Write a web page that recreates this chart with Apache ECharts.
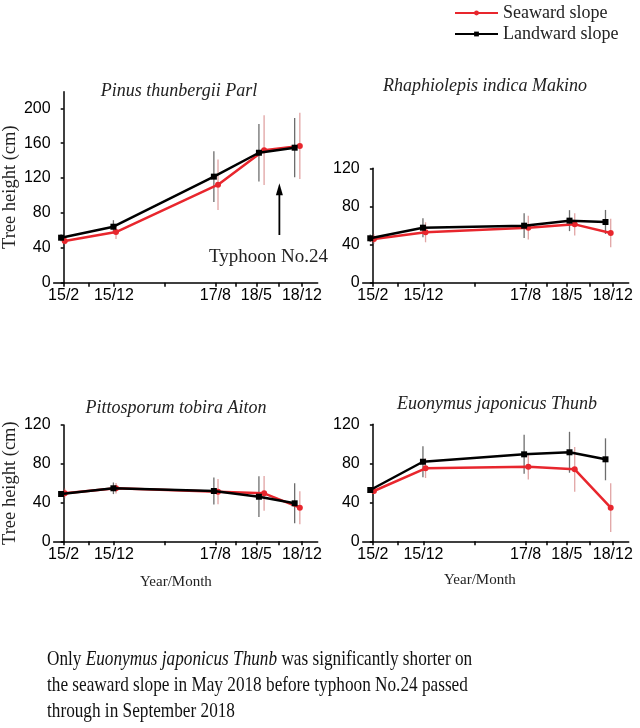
<!DOCTYPE html>
<html>
<head>
<meta charset="utf-8">
<script src="https://cdn.jsdelivr.net/npm/echarts@6/dist/echarts.min.js"></script>
<style>html,body{margin:0;padding:0;background:#fff}#c{width:640px;height:728px}</style>
</head>
<body>
<div id="c"></div>
<script>
// ---- data ----
// x positions in months since 2015/02 (as placed in the figure)
const tickMajor = [0, 9.7, 29.3, 37.2, 46];
const tickMinor = [4.8, 19.5, 33.3, 41.6];
const tickLabels = ['15/2', '15/12', '17/8', '18/5', '18/12'];
const xLand = [-0.5, 9.6, 29.0, 37.7, 44.6];
const xSea = [0.2, 10.1, 29.8, 38.7, 45.6];

const species = ['Pinus thunbergii Parl', 'Rhaphiolepis indica Makino', 'Pittosporum tobira Aiton', 'Euonymus japonicus Thunb'];

const pinusSea = [47.8, 58.1, 112.4, 152, 156.8];
const pinusSeaErr = [4, 8, 29, 40, 38];
const pinusLand = [51.6, 64.2, 121.6, 149, 154.8];
const pinusLandErr = [4, 7.5, 29, 33, 34];

const rhaphSea = [45.9, 52.9, 57.7, 61.2, 52.2];
const rhaphSeaErr = [5, 10.5, 12.5, 11.6, 15];
const rhaphLand = [46.6, 57.7, 59.8, 65.1, 63.7];
const rhaphLandErr = [4, 10, 13, 11, 12.6];

const pittoSea = [49.5, 54.7, 51.2, 49.5, 34.7];
const pittoSeaErr = [5, 5.5, 13, 18, 17];
const pittoLand = [48.8, 54.7, 51.9, 46, 39.2];
const pittoLandErr = [3, 6, 14, 21, 20.7];

const euonySea = [51.6, 74.9, 76.5, 73.8, 34.5];
const euonySeaErr = [3, 10, 13, 23, 25];
const euonyLand = [52.6, 81.6, 89.2, 91.3, 84.1];
const euonyLandErr = [3, 16, 20, 21, 21.5];

const yTicks1 = [0, 40, 80, 120, 160, 200];
const yTicks2 = [0, 40, 80, 120];

// typhoon annotation (data coords of panel 1)
const typhoonX = 41.65;
const arrowY = [54.7, 114];

// ---- layout ----
const grids = [
  {left: 51.7, top: 91.7, width: 266, height: 191},
  {left: 362.7, top: 168.3, width: 266, height: 114.4},
  {left: 51.7, top: 425, width: 266, height: 116.3},
  {left: 362.7, top: 424.3, width: 266, height: 117}
];
const yMax = [219, 120, 120, 120];
const yTickSets = [yTicks1, yTicks2, yTicks2, yTicks2];
const panels = [
  [pinusSea, pinusSeaErr, pinusLand, pinusLandErr],
  [rhaphSea, rhaphSeaErr, rhaphLand, rhaphLandErr],
  [pittoSea, pittoSeaErr, pittoLand, pittoLandErr],
  [euonySea, euonySeaErr, euonyLand, euonyLandErr]
];

const RED = '#e8262d';
const tickFont = {fontFamily: 'Liberation Sans', fontSize: 16, color: '#000'};
const serif = 'Liberation Serif';

const xAxes = grids.map((g, i) => ({
  type: 'value', gridIndex: i, min: -1.95, max: 49.05,
  splitLine: {show: false},
  axisLine: {lineStyle: {color: '#000', width: 1.5}},
  axisTick: {show: true, length: 4, lineStyle: {color: '#000', width: 1.5}, customValues: tickMajor.concat(tickMinor)},
  axisLabel: Object.assign({margin: 5, customValues: tickMajor,
    formatter: v => { const k = tickMajor.findIndex(t => Math.abs(t - v) < 1e-6); return k >= 0 ? tickLabels[k] : ''; }}, tickFont)
}));
const yAxes = grids.map((g, i) => ({
  type: 'value', gridIndex: i, min: 0, max: yMax[i],
  splitLine: {show: false},
  axisLine: {show: true, lineStyle: {color: '#000', width: 1.5}},
  axisTick: {show: true, length: 3, lineStyle: {color: '#000', width: 1.5}, customValues: yTickSets[i]},
  axisLabel: Object.assign({margin: 3, customValues: yTickSets[i]}, tickFont),
  name: (i === 0 || i === 2) ? 'Tree height (cm)' : '',
  nameLocation: 'middle', nameGap: 29,
  nameTextStyle: {fontFamily: serif, fontSize: 18.5, color: '#222'}
}));

function errSeries(i, xs, ys, es, color) {
  return {
    type: 'custom', xAxisIndex: i, yAxisIndex: i, z: 1,
    data: xs.map((x, k) => [x, ys[k], es[k]]),
    encode: {x: 0, y: 1},
    renderItem: (params, api) => {
      const x = api.value(0), y = api.value(1), e = api.value(2);
      const p1 = api.coord([x, y - e]), p2 = api.coord([x, y + e]);
      return {type: 'line', shape: {x1: p1[0], y1: p1[1], x2: p2[0], y2: p2[1]}, style: {stroke: color, lineWidth: 1.3}};
    },
    silent: true
  };
}

const series = [];
panels.forEach((p, i) => {
  series.push(errSeries(i, xSea, p[0], p[1], 'rgba(200,90,90,0.55)'));
  series.push(errSeries(i, xLand, p[2], p[3], 'rgba(60,60,60,0.75)'));
  series.push({
    name: 'Seaward slope', type: 'line', xAxisIndex: i, yAxisIndex: i, z: 3,
    data: xSea.map((x, k) => [x, p[0][k]]),
    symbol: 'circle', symbolSize: 6, showSymbol: true,
    lineStyle: {color: RED, width: 2.5}, itemStyle: {color: RED},
    animation: false
  });
  series.push({
    name: 'Landward slope', type: 'line', xAxisIndex: i, yAxisIndex: i, z: 4,
    data: xLand.map((x, k) => [x, p[2][k]]),
    symbol: 'rect', symbolSize: 6, showSymbol: true,
    lineStyle: {color: '#000', width: 2.5}, itemStyle: {color: '#000'},
    animation: false
  });
});

const titlePos = [[174, 77], [480, 72], [171, 394], [492, 390]];
const titles = species.map((s, i) => ({
  text: s, left: titlePos[i][0], top: titlePos[i][1], textAlign: 'center',
  textStyle: {fontFamily: serif, fontStyle: 'italic', fontWeight: 'normal', fontSize: 18, color: '#222'}
}));

const chart = echarts.init(document.getElementById('c'), null, {renderer: 'canvas'});
chart.setOption({
  backgroundColor: '#fff',
  animation: false,
  title: titles,
  legend: {
    data: ['Seaward slope', 'Landward slope'], orient: 'vertical', left: 449, top: -1,
    itemWidth: 43, itemHeight: 6, itemGap: 3,
    textStyle: {fontFamily: serif, fontSize: 18, color: '#222'}
  },
  grid: grids.map(g => Object.assign({containLabel: false}, g)),
  xAxis: xAxes, yAxis: yAxes, series: series
});

const a0 = chart.convertToPixel({gridIndex: 0}, [typhoonX, arrowY[0]]);
const a1 = chart.convertToPixel({gridIndex: 0}, [typhoonX, arrowY[1]]);
chart.setOption({
  graphic: [
    {type: 'line', shape: {x1: a0[0], y1: a0[1], x2: a1[0], y2: a1[1] + 8}, style: {stroke: '#000', lineWidth: 1.8}},
    {type: 'polygon', shape: {points: [[a1[0], a1[1]], [a1[0] - 3.5, a1[1] + 12], [a1[0] + 3.5, a1[1] + 12]]}, style: {fill: '#000'}},
    {type: 'text', left: 209, top: 248, style: {text: 'Typhoon No.24', font: '19px "Liberation Serif"', fill: '#222'}},
    {type: 'text', left: 140, top: 575, style: {text: 'Year/Month', font: '15px "Liberation Serif"', fill: '#222'}},
    {type: 'text', left: 444, top: 573, style: {text: 'Year/Month', font: '15px "Liberation Serif"', fill: '#222'}},
    {type: 'text', x: 47, y: 646, scaleX: 0.82, style: {
      text: 'Only {i|Euonymus japonicus Thunb} was significantly shorter on\nthe seaward slope in May 2018 before typhoon No.24 passed\nthrough in September 2018',
      font: '21px "Liberation Serif"', fill: '#111', lineHeight: 26,
      rich: {i: {fontStyle: 'italic', fontFamily: 'Liberation Serif', fontSize: 21, fill: '#111', lineHeight: 26}}
    }}
  ]
});
</script>
</body>
</html>
